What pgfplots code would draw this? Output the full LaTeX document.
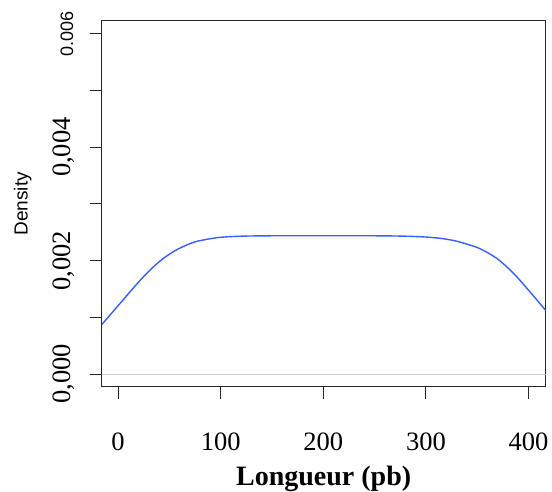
\documentclass[border=0pt]{standalone}
\usepackage{fontspec}
\setmainfont{Liberation Serif}
\newfontfamily\arial{Liberation Sans}
\usepackage{pgfplots}
\pgfplotsset{compat=1.18}
\definecolor{curve}{RGB}{55,95,255}
\begin{document}
\begin{tikzpicture}[x=1pt,y=1pt]
\useasboundingbox (0,0) rectangle (552,492);
\begin{axis}[
  at={(101.7pt,105.3pt)}, anchor=south west,
  scale only axis, width=444pt, height=366pt,
  xmin=-16, xmax=416.8, ymin=-0.000224, ymax=0.00623,
  axis line style={line width=0.9pt, black!85},
  tick align=outside, major tick length=12pt,
  tick style={black!85, line width=0.9pt},
  xtick pos=bottom, ytick pos=left,
  xtick={0,100,200,300,400},
  xticklabels={0,100,200,300,400},
  ytick={0,0.001,0.002,0.003,0.004,0.005},
  yticklabels={{0,000},{},{0,002},{},{0,004},{}},
  scaled y ticks=false, scaled x ticks=false,
  ticklabel style={font=\fontsize{26.5}{28}\selectfont},
  xticklabel style={anchor=base, yshift=-51.6pt},
  yticklabel style={xshift=-19.5pt, rotate=90, anchor=base},
  extra y ticks={0.006},
  extra y tick labels={0.006},
  extra y tick style={yticklabel style={font=\arial\fontsize{18}{20}\selectfont, yshift=-3pt}},
  ylabel={Density},
  ylabel style={at={(axis description cs:-0.1670,0.5)}, anchor=base, font=\arial\fontsize{19}{21}\selectfont},
  xlabel={Longueur (pb)},
  xlabel style={at={(axis description cs:0.5,-0.2713)}, anchor=base, font=\bfseries\fontsize{28}{30}\selectfont},
  clip=true,
]
\addplot[black!20, line width=0.9pt] coordinates {(-16,0) (416.8,0)};
\addplot[curve, line width=1.4pt, smooth] coordinates {
(-16,0.00087) (-5,0.00110) (5,0.00131) (15,0.00152) (25,0.00172) (35,0.00190)
(45,0.00205) (55,0.00217) (65,0.00226) (75,0.00233) (85,0.00237)
(99.6,0.00241) (120,0.00243) (150,0.002437) (200,0.002438)
(250,0.002437) (280,0.00243) (300,0.002415) (315,0.00239) (328,0.00235) (340,0.00229)
(352.7,0.00221) (369,0.00204) (385.2,0.00178) (401.4,0.00145) (416.8,0.00112)
};
\end{axis}
\end{tikzpicture}
\end{document}
